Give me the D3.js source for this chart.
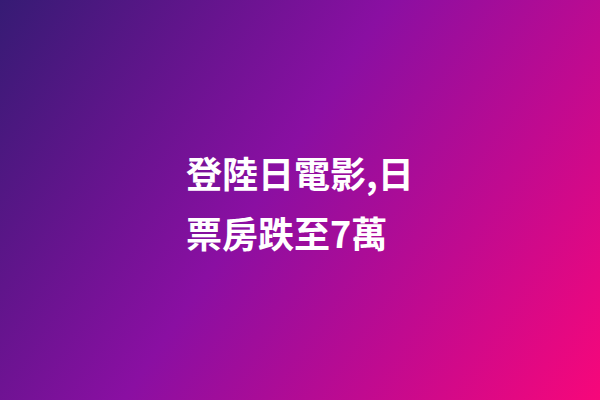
<!DOCTYPE html>
<html><head><meta charset="utf-8">
<script src="https://cdn.jsdelivr.net/npm/d3@7/dist/d3.min.js"></script>
<style>html,body{margin:0;padding:0;overflow:hidden;background:#fff}</style>
</head><body>
<script>
const titleLines = ["登陸日電影,日", "票房跌至7萬"];
const gradientColors = ["#361b74", "#8a0fa2", "#c00a90", "#f7077a"];
const gradientOffsets = [0, 0.45, 0.72, 1];

const W = 600, H = 400;
const svg = d3.select("body").append("svg").attr("width", W).attr("height", H);
const defs = svg.append("defs");
const grad = defs.append("linearGradient").attr("id", "bg")
  .attr("gradientUnits", "userSpaceOnUse")
  .attr("x1", 0).attr("y1", 0).attr("x2", W).attr("y2", H);
grad.selectAll("stop").data(gradientColors).join("stop")
  .attr("offset", (d, i) => gradientOffsets[i])
  .attr("stop-color", d => d);
svg.append("rect").attr("width", W).attr("height", H).attr("fill", "url(#bg)");

const y = d3.scalePoint().domain(d3.range(titleLines.length)).range([172, 232]);
svg.append("g").selectAll("text").data(titleLines).join("text")
  .attr("x", 186).attr("y", (d, i) => y(i))
  .attr("dominant-baseline", "central")
  .attr("fill", "#fff")
  .attr("font-family", "'Noto Sans CJK TC', 'Noto Sans CJK SC', sans-serif")
  .attr("font-weight", 700)
  .attr("font-size", 36)
  .text(d => d);
</script>
</body></html>
